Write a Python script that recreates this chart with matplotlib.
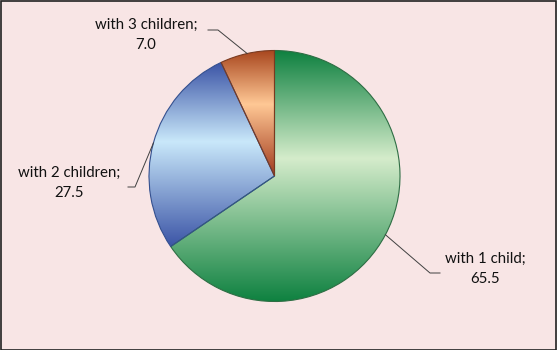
import numpy as np
import matplotlib
matplotlib.use("Agg")
import matplotlib.pyplot as plt
from matplotlib.colors import LinearSegmentedColormap
from matplotlib.patches import Rectangle

# ---- data ----
categories = ["with 1 child", "with 2 children", "with 3 children"]
values = [65.5, 27.5, 7.0]
value_labels = ["65.5", "27.5", "7.0"]

# ---- styles ----
dark_cols = ["#0E8140", "#3B54A6", "#A13A1C"]
light_cols = ["#D5ECCB", "#C9E8FA", "#FFC895"]
end_cols = ["#0E8140", "#3B54A6", "#A8461E"]
edge_cols = ["#2E6E44", "#34508F", "#7A3A20"]
bg = "#F8E5E5"

W, H = 557, 350
CX, CY, R = 274.5, 176.0, 125.5


def px(x, y):
    return ((x - CX) / R, (CY - y) / R)


fig = plt.figure(figsize=(W / 100, H / 100), dpi=100)
fig.patch.set_facecolor(bg)
ax = fig.add_axes([0, 0, 1, 1])
ax.set_facecolor(bg)

wedges, _ = ax.pie(values, startangle=90, counterclock=False, radius=1.0,
                   center=(0, 0), colors=dark_cols,
                   wedgeprops=dict(linewidth=0.8), frame=True)
ax.set_aspect("equal")
ax.axis("off")

for i, w in enumerate(wedges):
    path = w.get_path().transformed(w.get_patch_transform())
    verts = path.vertices
    x0, x1 = verts[:, 0].min(), verts[:, 0].max()
    y0, y1 = verts[:, 1].min(), verts[:, 1].max()
    cmap = LinearSegmentedColormap.from_list(
        f"g{i}", [(0, dark_cols[i]), (0.57, light_cols[i]), (1, end_cols[i])])
    grad = np.linspace(0, 1, 256).reshape(-1, 1)
    im = ax.imshow(grad, cmap=cmap, extent=(x0, x1, y1, y0), aspect="auto",
                   origin="upper", zorder=1.5, interpolation="bilinear")
    im.set_clip_path(w)
    w.set_facecolor("none")
    w.set_edgecolor(edge_cols[i])
    w.set_zorder(2)

ax.set_xlim(-CX / R, (W - CX) / R)
ax.set_ylim(-(H - CY) / R, CY / R)
ax.set_aspect("equal")

# labels and leader lines
theta = []
acc = 0.0
tot = sum(values)
for v in values:
    mid = 90 - (acc + v / 2) / tot * 360
    theta.append(np.deg2rad(mid))
    acc += v

label_pos = [(485, 269), (69, 183), (146, 35)]
elbows = [((430, 273), (440, 273)), ((135, 187), (128, 187)), ((218, 30), (208, 30))]

for i in range(3):
    ex, ey = np.cos(theta[i]), np.sin(theta[i])
    (a, b) = elbows[i]
    ax1, ay1 = px(*a)
    ax2, ay2 = px(*b)
    ax.plot([ex, ax1, ax2], [ey, ay1, ay2], color="#404040", lw=0.7, zorder=3)
    tx, ty = px(*label_pos[i])
    ax.text(tx, ty, f"{categories[i]};\n{value_labels[i]}", ha="center", va="center",
            multialignment="center", fontsize=10.8, family="Lato", color="#111111",
            linespacing=1.55, zorder=4)

# border
fig.patches.append(Rectangle((0.5 / W, 0.5 / H), 1 - 1.5 / W, 1 - 1.5 / H,
                             transform=fig.transFigure, fill=False,
                             edgecolor="#222222", lw=1.2))

fig.savefig("out.png", dpi=100, facecolor=bg)
